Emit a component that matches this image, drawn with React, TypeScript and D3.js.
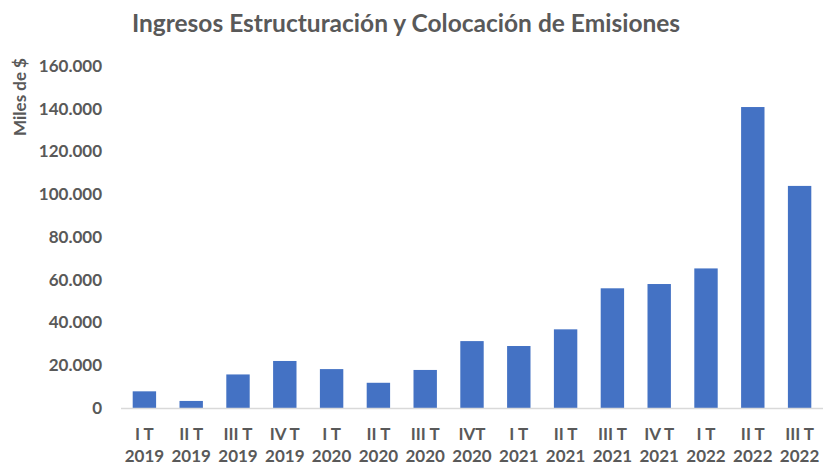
import React, { useRef, useEffect } from 'react';
import * as d3 from 'd3';

// trimestres y años (etiquetas en dos líneas)
const quarters = ['I T', 'II T', 'III T', 'IV T', 'I T', 'II T', 'III T', 'IVT', 'I T', 'II T', 'III T', 'IV T', 'I T', 'II T', 'III T'];
const years = ['2019', '2019', '2019', '2019', '2020', '2020', '2020', '2020', '2021', '2021', '2021', '2021', '2022', '2022', '2022'];
// ingresos en miles de $
const ingresos = [7800, 3300, 15700, 22000, 18200, 11800, 17800, 31300, 29000, 36800, 56000, 58000, 65300, 140800, 103900];
const yTicks = [0, 20000, 40000, 60000, 80000, 100000, 120000, 140000, 160000];

const WIDTH = 823;
const HEIGHT = 464;
const TEXT = '#595959';
const BAR = '#4472C4';
const FONT = 'Lato, "Open Sans", sans-serif';

const fmt = (v: number) => (v === 0 ? '0' : d3.format(',')(v).replace(/,/g, '.'));

const App: React.FC = () => {
  const svgRef = useRef<SVGSVGElement | null>(null);

  useEffect(() => {
    const margin = { top: 66, right: 0, bottom: 56, left: 121 };
    const w = WIDTH - margin.left - margin.right;
    const h = HEIGHT - margin.top - margin.bottom;

    const svg = d3.select(svgRef.current);
    svg.selectAll('*').remove();

    // título
    svg.append('text')
      .attr('x', 406)
      .attr('y', 32)
      .attr('text-anchor', 'middle')
      .attr('font-family', FONT)
      .attr('font-weight', 700)
      .attr('font-size', 24.5)
      .attr('fill', TEXT)
      .text('Ingresos Estructuración y Colocación de Emisiones');

    // título eje Y
    svg.append('text')
      .attr('transform', 'translate(26,97) rotate(-90)')
      .attr('text-anchor', 'middle')
      .attr('font-family', FONT)
      .attr('font-weight', 700)
      .attr('font-size', 17)
      .attr('fill', TEXT)
      .text('Miles de $');

    const g = svg.append('g').attr('transform', `translate(${margin.left},${margin.top})`);

    const x = d3.scaleBand<number>()
      .domain(ingresos.map((_, i) => i))
      .range([0, w])
      .paddingInner(0.5)
      .paddingOuter(0.25);
    const y = d3.scaleLinear().domain([0, 160000]).range([h, 0]);

    // barras
    g.selectAll('rect.bar')
      .data(ingresos)
      .enter()
      .append('rect')
      .attr('class', 'bar')
      .attr('x', (_, i) => x(i)!)
      .attr('y', (d) => y(d))
      .attr('width', x.bandwidth())
      .attr('height', (d) => h - y(d))
      .attr('fill', BAR);

    // eje X (línea base)
    g.append('line')
      .attr('x1', 0)
      .attr('x2', w)
      .attr('y1', h + 0.5)
      .attr('y2', h + 0.5)
      .attr('stroke', '#d9d9d9')
      .attr('stroke-width', 1.5);

    // etiquetas eje Y
    const yAxis = g.append('g')
      .call(d3.axisLeft(y).tickValues(yTicks).tickFormat((d) => fmt(+d)).tickSize(0).tickPadding(19));
    yAxis.select('.domain').remove();
    yAxis.selectAll('text')
      .attr('font-family', FONT)
      .attr('font-weight', 700)
      .attr('font-size', 17)
      .attr('fill', TEXT);

    // etiquetas eje X
    const labels = g.selectAll('text.xl')
      .data(ingresos)
      .enter()
      .append('text')
      .attr('class', 'xl')
      .attr('text-anchor', 'middle')
      .attr('font-family', FONT)
      .attr('font-weight', 700)
      .attr('font-size', 17)
      .attr('fill', TEXT);
    labels.append('tspan')
      .attr('x', (_, i) => x(i)! + x.bandwidth() / 2)
      .attr('y', h + 32)
      .text((_, i) => quarters[i]);
    labels.append('tspan')
      .attr('x', (_, i) => x(i)! + x.bandwidth() / 2)
      .attr('y', h + 54)
      .text((_, i) => years[i]);
  }, []);

  return (
    <svg
      ref={svgRef}
      width={WIDTH}
      height={HEIGHT}
      style={{ position: 'absolute', left: 0, top: 0, background: '#fff' }}
    />
  );
};

export default App;
